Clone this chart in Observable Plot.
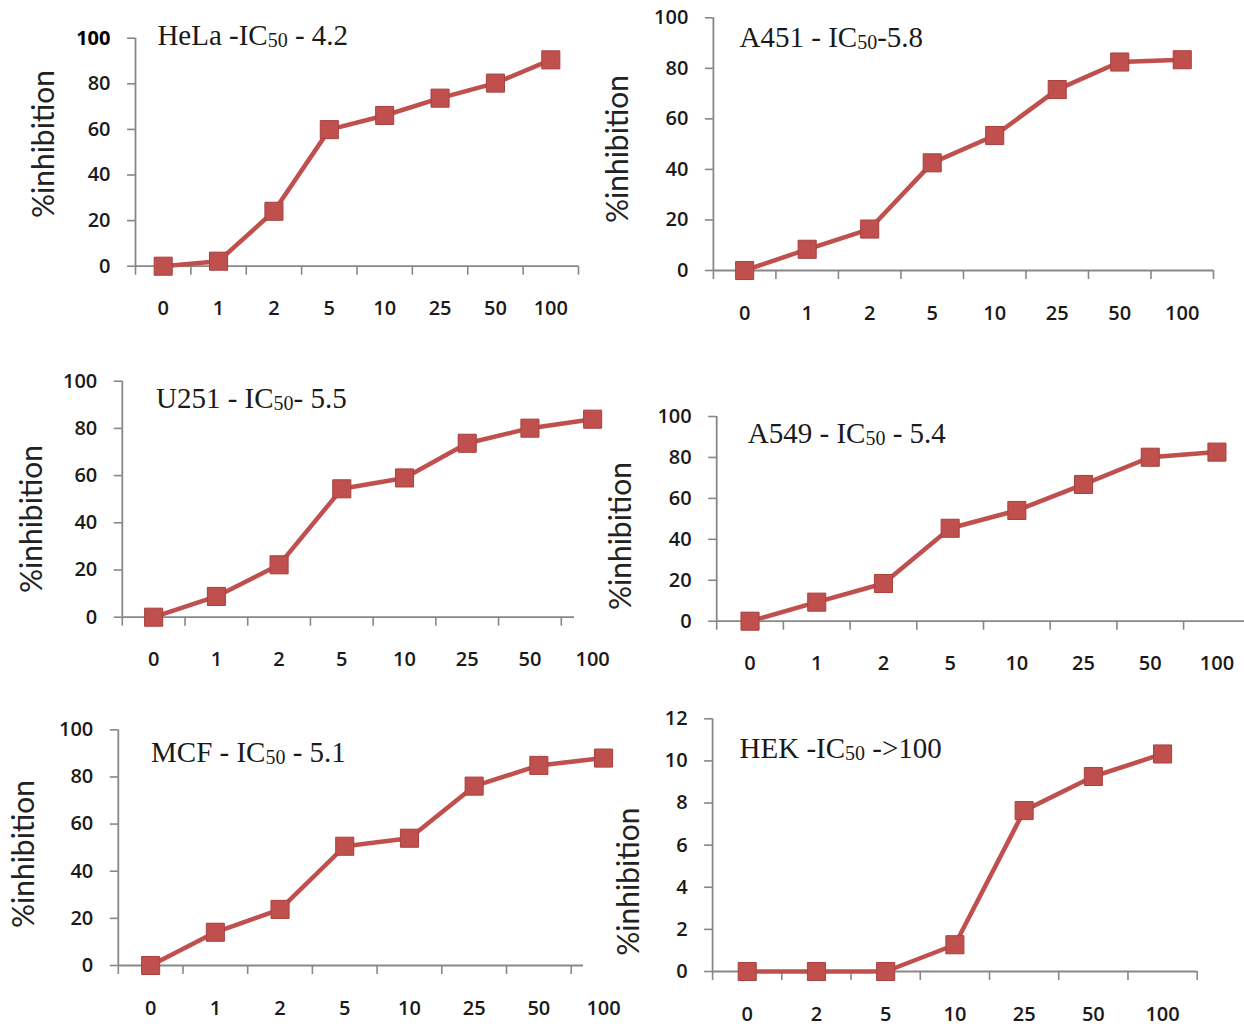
<!DOCTYPE html>
<html><head><meta charset="utf-8">
<script src="https://cdn.jsdelivr.net/npm/d3@7"></script>
<script src="https://cdn.jsdelivr.net/npm/@observablehq/plot@0.6"></script>
<style>
html,body{margin:0;padding:0;background:#fff;overflow:hidden}
#wrap{position:relative;width:1244px;height:1026px;overflow:hidden;background:#fff}
</style></head><body><div id="wrap"></div>
<script>
// ---- data ----
const concentrations8 = ["0","1","2","5","10","25","50","100"];
const concentrations7 = ["0","2","5","10","25","50","100"];
const helaValues = [0, 2.2, 24.1, 59.9, 66.1, 73.7, 80.3, 90.5];
const a451Values = [0, 8.4, 16.4, 42.6, 53.4, 71.6, 82.5, 83.4];
const u251Values = [0, 8.8, 22.2, 54.4, 59.0, 73.7, 80.1, 83.9];
const a549Values = [0, 9.3, 18.4, 45.4, 54.1, 66.8, 80.1, 82.6];
const mcfValues  = [0, 14.1, 23.8, 50.6, 54.0, 76.1, 84.9, 88.0];
const hekValues  = [0, 0, 0, 1.27, 7.64, 9.26, 10.33];
const percentTicks = [0, 20, 40, 60, 80, 100];
const hekTicks = [0, 2, 4, 6, 8, 10, 12];
const titleHeads = ["HeLa -IC", "A451 - IC", "U251 - IC", "A549 - IC", "MCF - IC", "HEK -IC"];
const titleSubs  = ["50", "50", "50", "50", "50", "50"];
const titleTails = [" - 4.2", "-5.8", "- 5.5", " - 5.4", " - 5.1", " ->100"];
const yLabel = "%inhibition";

// ---- layout (pixel positions of each panel's frame) ----
const layout = [
  {left:135,   right:578,    top:37.7,  bottom:265.7, axisEnd:null, titleX:157.4, titleY:45,    labelX:41.5,  labelY:144},
  {left:712.9, right:1213,   top:17.3,  bottom:270,   axisEnd:null, titleX:739.6, titleY:46.7,  labelX:616.4, labelY:149},
  {left:121.8, right:623.5,  top:380.7, bottom:616.7, axisEnd:574,  titleX:156,   titleY:408,   labelX:29.7,  labelY:519},
  {left:716.2, right:1249.8, top:416,   bottom:620.7, axisEnd:1246, titleX:747.8, titleY:443,   labelX:618.5, labelY:536},
  {left:117.8, right:635.4,  top:729.3, bottom:965,   axisEnd:583,  titleX:151,   titleY:761.7, labelX:21.7,  labelY:854},
  {left:712.1, right:1196.7, top:718.3, bottom:971,   axisEnd:null, titleX:739.6, titleY:758,   labelX:626.7, labelY:881.7}
];
const panels = [
  {cats: concentrations8, values: helaValues, ticks: percentTicks, ymax: 100},
  {cats: concentrations8, values: a451Values, ticks: percentTicks, ymax: 100},
  {cats: concentrations8, values: u251Values, ticks: percentTicks, ymax: 100},
  {cats: concentrations8, values: a549Values, ticks: percentTicks, ymax: 100},
  {cats: concentrations8, values: mcfValues,  ticks: percentTicks, ymax: 100},
  {cats: concentrations7, values: hekValues,  ticks: hekTicks,     ymax: 12}
];

const RED = "#C0504D", RED_EDGE = "#A8413E", AXIS = "#878787", TXT = "#1a1a1a";
const TICK_FONT = "'Open Sans', Lato, sans-serif";
const W = 1260, H = 1026;
const wrap = document.getElementById("wrap");

panels.forEach((p, k) => {
  const L = layout[k];
  const n = p.cats.length;
  const step = (L.right - L.left) / n;
  const endIdx = L.axisEnd == null ? n - 0.5 : -0.5 + (L.axisEnd - L.left) / step;
  const bounds = d3.range(n + 1).map(b => b - 0.5).filter(b => b <= endIdx + 1e-6);
  const data = p.values.map((v, i) => ({i, v}));
  const svg = Plot.plot({
    width: W, height: H,
    marginLeft: L.left, marginRight: W - L.right,
    marginTop: L.top, marginBottom: H - L.bottom,
    x: {domain: [-0.5, n - 0.5]},
    y: {domain: [0, p.ymax]},
    style: "position:absolute;left:0;top:0;background:transparent;max-width:none;overflow:visible;font-family:Lato,sans-serif;",
    marks: [
      Plot.ruleX([-0.5], {stroke: AXIS, strokeWidth: 1.8}),
      Plot.ruleY([0], {x1: -0.5, x2: endIdx, stroke: AXIS, strokeWidth: 1.8}),
      Plot.axisY({ticks: p.ticks, tickSize: 8, tickFormat: () => "", color: AXIS, strokeWidth: 1.6, label: null}),
      Plot.axisY({ticks: p.ticks, tickSize: 0, tickPadding: 25, color: TXT, fontSize: 20, fontWeight: 600, fontFamily: TICK_FONT, label: null}),
      Plot.axisX({ticks: bounds, tickSize: 9, tickFormat: () => "", color: AXIS, strokeWidth: 1.6, label: null}),
      Plot.axisX({ticks: d3.range(n), tickSize: 0, tickPadding: 35, tickFormat: i => p.cats[i], color: TXT, fontSize: 20, fontWeight: 600, fontFamily: TICK_FONT, label: null}),
      Plot.line(data, {x: "i", y: "v", stroke: RED, strokeWidth: 4.5}),
      Plot.dot(data, {x: "i", y: "v", symbol: "square", r: 10.2, fill: RED, stroke: RED_EDGE, strokeWidth: 1})
    ]
  });
  wrap.appendChild(svg);
  if (k === 0) {
    // the top "100" label of the first panel is darker/bolder in the original
    const top = d3.select(svg).selectAll("text").filter(function() {
      return this.textContent === "100" && this.getBoundingClientRect().left < L.left - 10;
    });
    top.attr("fill", "#000").style("font-weight", "700");
  }
});

// titles and y-axis labels
const overlay = d3.select("#wrap").append("svg")
  .attr("width", 1244).attr("height", 1026)
  .style("position", "absolute").style("left", 0).style("top", 0)
  .style("white-space", "pre");
layout.forEach((L, k) => {
  const t = overlay.append("text")
    .attr("x", L.titleX).attr("y", L.titleY)
    .attr("font-family", "'Liberation Serif','Times New Roman',serif")
    .attr("font-size", 29).attr("fill", TXT);
  t.append("tspan").text(titleHeads[k]);
  t.append("tspan").attr("font-size", 20).attr("dy", 2).text(titleSubs[k]);
  t.append("tspan").attr("font-size", 29).attr("dy", -2).text(titleTails[k]);
  overlay.append("text")
    .attr("transform", `translate(${L.labelX},${L.labelY}) rotate(-90)`)
    .attr("text-anchor", "middle").attr("dominant-baseline", "central")
    .attr("font-family", "Lato, sans-serif").attr("font-size", 30).attr("fill", "#222")
    .text(yLabel);
});
</script></body></html>
